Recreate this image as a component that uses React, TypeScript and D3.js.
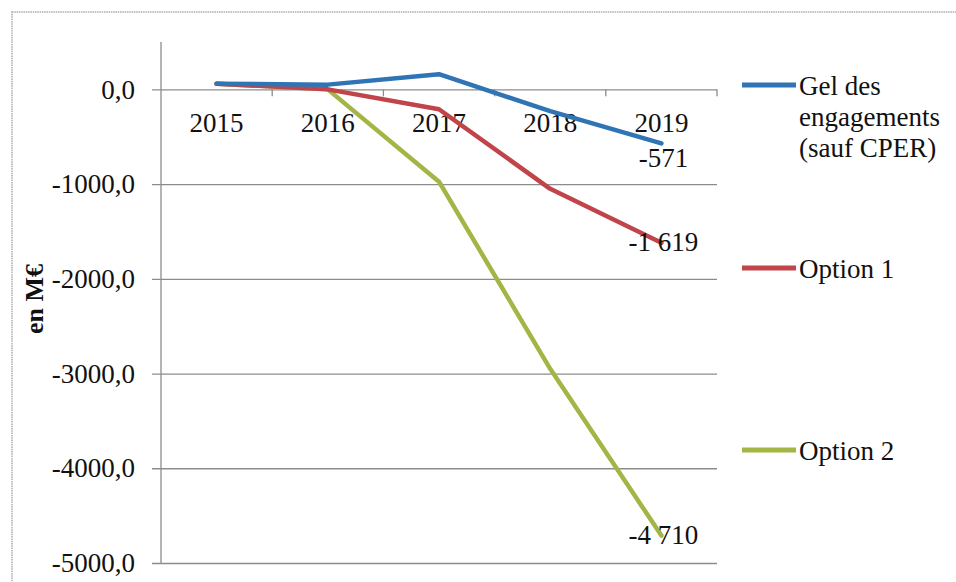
import { useRef, useEffect } from "react";
import * as d3 from "d3";

const years = ["2015", "2016", "2017", "2018", "2019"];
const gelValues = [60, 50, 160, -230, -571];
const option1Values = [60, 0, -210, -1050, -1619];
const option2Values = [60, 0, -975, -2950, -4710];
const yTicks = [0, -1000, -2000, -3000, -4000, -5000];

const seriesNames = [
  ["Gel des", "engagements", "(sauf CPER)"],
  ["Option 1"],
  ["Option 2"],
];

const colors = ["#2f74b5", "#c0444a", "#a5b545"];
// vertical offset of the end-value label, per series
const labelDy = [24, 8, 8];
const legendY = [85, 268, 450];

const FONT = "'Liberation Serif', 'Times New Roman', serif";
const FS = 27;

const locale = d3.formatLocale({
  decimal: ",",
  thousands: " ",
  grouping: [3],
  currency: ["", "€"],
  minus: "-",
});

const App = () => {
  const ref = useRef<SVGSVGElement>(null);

  useEffect(() => {
    if (!ref.current) return;
    const svg = d3.select(ref.current);
    svg.selectAll("*").remove();

    const left = 161;
    const right = 717;
    const top = 42;
    const bottom = 563;

    const x = d3.scaleBand().domain(years).range([left, right]);
    const y = d3.scaleLinear().domain([-5000, 500]).range([bottom, top]);
    const cx = (d: string) => x(d)! + x.bandwidth() / 2;

    // outer frame
    svg
      .append("rect")
      .attr("x", 12)
      .attr("y", 12)
      .attr("width", 960)
      .attr("height", 600)
      .attr("fill", "none")
      .attr("stroke", "#b3aaaa")
      .attr("stroke-width", 1.5)
      .attr("stroke-dasharray", "1.5,0.8");

    // gridlines + y axis
    const yAxis = d3
      .axisLeft(y)
      .tickValues(yTicks)
      .tickSize(-(right - left))
      .tickPadding(16)
      .tickFormat((d) => locale.format(".1f")(d as number));

    const gy = svg
      .append("g")
      .attr("transform", `translate(${left},0)`)
      .call(yAxis);
    gy.select(".domain").remove();
    gy.selectAll(".tick line")
      .attr("x1", -9)
      .attr("stroke", "#8c8c8c")
      .attr("stroke-width", 1.3);
    gy.selectAll(".tick text")
      .attr("font-family", FONT)
      .attr("font-size", FS)
      .attr("fill", "#111")
      .attr("x", -26);

    svg
      .append("line")
      .attr("x1", left)
      .attr("x2", left)
      .attr("y1", top)
      .attr("y2", bottom)
      .attr("stroke", "#8c8c8c")
      .attr("stroke-width", 1.3);

    // x axis on the zero line
    const y0 = y(0);
    const bounds = years.map((d) => x(d)!).concat([right]).slice(1);
    svg
      .append("g")
      .selectAll("line")
      .data(bounds)
      .join("line")
      .attr("x1", (d) => d)
      .attr("x2", (d) => d)
      .attr("y1", y0)
      .attr("y2", y0 + 7)
      .attr("stroke", "#8c8c8c")
      .attr("stroke-width", 1.3);

    svg
      .append("g")
      .selectAll("text")
      .data(years)
      .join("text")
      .attr("x", (d) => cx(d))
      .attr("y", y0 + 43)
      .attr("text-anchor", "middle")
      .attr("font-family", FONT)
      .attr("font-size", FS)
      .attr("fill", "#111")
      .text((d) => d);

    // y title
    svg
      .append("text")
      .attr("transform", `translate(43,299) rotate(-90)`)
      .attr("text-anchor", "middle")
      .attr("font-family", FONT)
      .attr("font-weight", "bold")
      .attr("font-size", 26)
      .attr("fill", "#111")
      .text("en M€");

    const allSeries = [gelValues, option1Values, option2Values];
    const line = d3
      .line<number>()
      .x((_, i) => cx(years[i]))
      .y((d) => y(d));

    // draw in reverse so blue is on top
    [2, 1, 0].forEach((s) => {
      svg
        .append("path")
        .datum(allSeries[s])
        .attr("d", line)
        .attr("fill", "none")
        .attr("stroke", colors[s])
        .attr("stroke-width", 4.5)
        .attr("stroke-linejoin", "round")
        .attr("stroke-linecap", "round");
    });

    // end labels
    allSeries.forEach((vals, s) => {
      const last = vals[vals.length - 1];
      svg
        .append("text")
        .attr("x", cx(years[years.length - 1]) + 2)
        .attr("y", y(last) + labelDy[s])
        .attr("text-anchor", "middle")
        .attr("font-family", FONT)
        .attr("font-size", FS)
        .attr("fill", "#111")
        .text(locale.format(",.0f")(last));
    });

    // legend
    seriesNames.forEach((lines, s) => {
      const ly = legendY[s];
      svg
        .append("line")
        .attr("x1", 742)
        .attr("x2", 796)
        .attr("y1", ly)
        .attr("y2", ly)
        .attr("stroke", colors[s])
        .attr("stroke-width", 5);
      const t = svg
        .append("text")
        .attr("font-family", FONT)
        .attr("font-size", FS)
        .attr("fill", "#111");
      lines.forEach((l, i) => {
        t.append("tspan")
          .attr("x", 799)
          .attr("y", ly + 10 + i * 31)
          .text(l);
      });
    });
  }, []);

  return (
    <div style={{ position: "absolute", left: 0, top: 0 }}>
      <svg ref={ref} width={956} height={582} style={{ display: "block", background: "#fff" }} />
    </div>
  );
};

export default App;
